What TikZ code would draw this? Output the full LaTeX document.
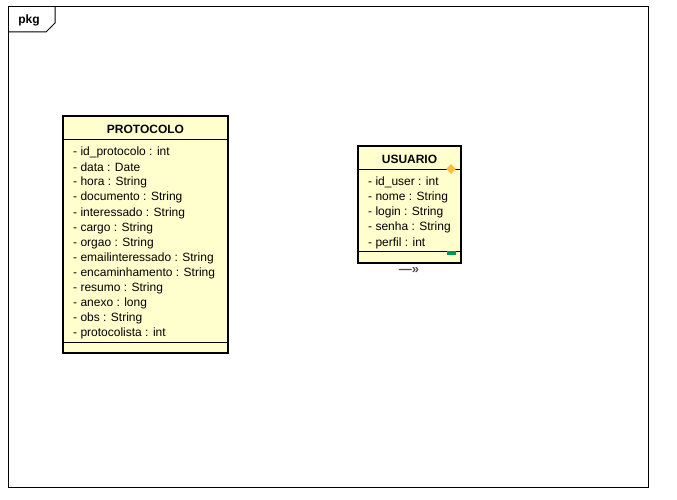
\documentclass[tikz,border=0pt]{standalone}
\usepackage{fontspec}
\setmainfont{Liberation Sans}
\usepackage{tikz}
\usetikzlibrary{shapes.geometric}

\definecolor{classfill}{RGB}{255,255,206}
\definecolor{markorange}{RGB}{255,190,60}
\definecolor{markgreen}{RGB}{0,150,90}

\tikzset{
  classbox/.style={draw, line width=2pt, fill=classfill, rectangle, inner sep=0pt},
  classname/.style={font=\fontsize{12}{14}\selectfont\bfseries},
  attr/.style={anchor=west, inner sep=0pt, font=\fontsize{12}{14}\selectfont},
  sepline/.style={line width=1pt}
}

\begin{document}
\begin{tikzpicture}[x=1pt, y=-1pt]
\useasboundingbox (0,0) rectangle (677,500);
% package frame
\node[draw, line width=1pt, minimum width=640pt, minimum height=480pt, inner sep=0pt] (pkg) at (328,247) {};
\coordinate (tabL) at (8,32); \coordinate (tabB) at (46,32);
\coordinate (tabC) at (55,23); \coordinate (tabT) at (55,7);
\draw[line width=1pt] (tabL) -- (tabB) -- (tabC) -- (tabT);
\node[classname] (pkgname) at (29,20) {pkg};

% PROTOCOLO
\node[classbox, minimum width=165pt, minimum height=237pt] (protocolo) at (145.5,234.5) {};
\node[classname] (protocoloname) at (145.5,129) {PROTOCOLO};
\draw[sepline] (63,140) -- (228,140);
\draw[sepline] (63,342) -- (228,342);
\foreach \a [count=\i from 0] in {id\_protocolo : int, data : Date, hora : String,
  documento : String, interessado : String, cargo : String, orgao : String,
  emailinteressado : String, encaminhamento : String, resumo : String,
  anexo : long, obs : String, protocolista : int}
  \node[attr] (p\i) at (73,{152.5+15.1*\i}) {- \a};

% USUARIO
\node[classbox, minimum width=103pt, minimum height=117pt] (usuario) at (409.5,204.5) {};
\node[classname] (usuarioname) at (409.5,159) {USUARIO};
\draw[sepline] (358,169) -- (461,169);
\draw[sepline] (358,251) -- (461,251);
\foreach \a [count=\i from 0] in {id\_user : int, nome : String, login : String,
  senha : String, perfil : int}
  \node[attr] (u\i) at (368,{182.5+15.1*\i}) {- \a};
\node[diamond, fill=markorange, minimum width=10pt, minimum height=10pt, inner sep=0pt] (umark) at (451,169) {};
\node[fill=markgreen, minimum width=9pt, minimum height=4pt, inner sep=0pt] (ustate) at (451,253) {};
\node[font=\fontsize{13}{15}\selectfont\bfseries, text=black!70] (unav) at (409,271) {—»};
\end{tikzpicture}
\end{document}
